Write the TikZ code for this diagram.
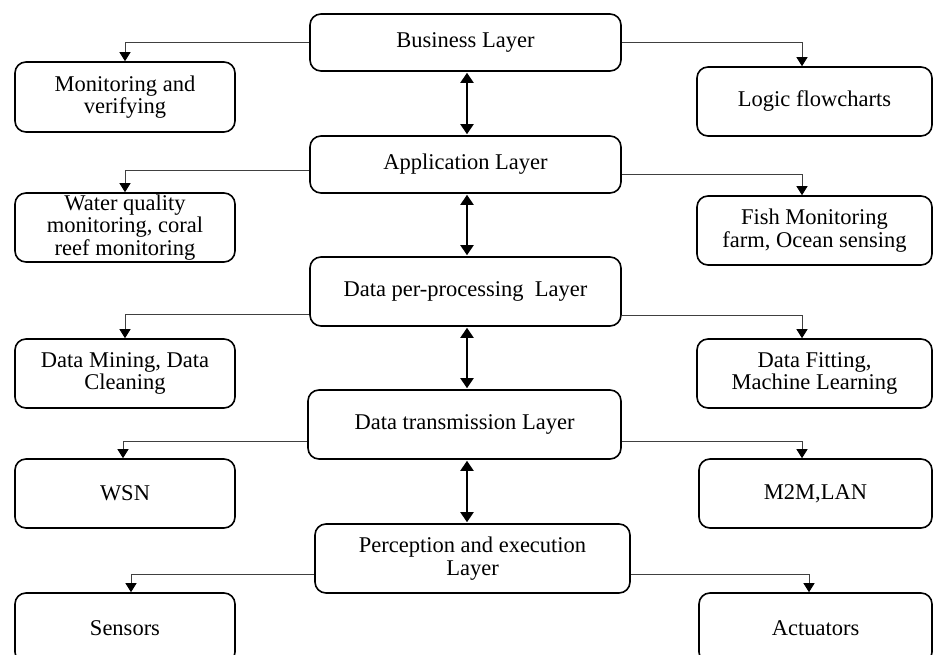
\documentclass[tikz,border=0pt]{standalone}
\usepackage{fontspec}
\setmainfont{Liberation Serif}
\usetikzlibrary{arrows.meta}
\begin{document}
\begin{tikzpicture}[x=1pt,y=-1pt,
  box/.style={draw=black, line width=1.6pt, rounded corners=11pt, align=center,
    inner sep=0pt, font=\fontsize{22.5}{22.5}\selectfont, fill=white},
  conn/.style={draw=black!75, line width=0.9pt, -{Triangle[length=9pt,width=11pt,color=black]}},
  dbl/.style={draw=black, line width=2pt, {Triangle[length=10pt,width=13pt]}-{Triangle[length=10pt,width=13pt]}, shorten <=1pt, shorten >=1pt}
]
\useasboundingbox (0,0) rectangle (934,655);
\clip (0,0) rectangle (934,655);
\fill[white] (0,0) rectangle (934,655);

% central layers
\node[box, minimum width=311pt, minimum height=57pt] (bl) at (465.5,42.5) {Business Layer};
\node[box, minimum width=311pt, minimum height=57pt] (al) at (465.5,164.5) {Application Layer};
\node[box, minimum width=311pt, minimum height=69pt] (dpp) at (465.5,291.5) {Data per-processing\ \ Layer};
\node[box, minimum width=313pt, minimum height=69pt] (dt) at (464.5,424.5) {Data transmission Layer};
\node[box, minimum width=315pt, minimum height=69pt] (pe) at (472.5,558.5) {Perception and execution\\Layer};

% left boxes
\node[box, minimum width=220pt, minimum height=70pt] (mon) at (125,97) {Monitoring and\\verifying};
\node[box, minimum width=220pt, minimum height=69pt] (wq) at (125,227.5) {Water quality\\monitoring, coral\\reef monitoring};
\node[box, minimum width=220pt, minimum height=69pt] (dm) at (125,373.5) {Data Mining, Data\\Cleaning};
\node[box, minimum width=220pt, minimum height=69pt] (wsn) at (125,493.5) {WSN};
\node[box, minimum width=220pt, minimum height=70pt] (sen) at (125,628) {Sensors};

% right boxes
\node[box, minimum width=235pt, minimum height=69pt] (lf) at (814.5,101.5) {Logic flowcharts};
\node[box, minimum width=235pt, minimum height=69pt] (fish) at (814.5,230.5) {Fish Monitoring\\farm, Ocean sensing};
\node[box, minimum width=235pt, minimum height=69pt] (df) at (814.5,373.5) {Data Fitting,\\Machine Learning};
\node[box, minimum width=233pt, minimum height=69pt] (m2m) at (815.5,493.5) {M2M,LAN};
\node[box, minimum width=233pt, minimum height=70pt] (act) at (815.5,628) {Actuators};

% connectors to side boxes
\draw[conn] (bl.west) -| (mon.north);
\draw[conn] (bl.east) -| (lf.north -| 802,0);
\draw[conn] (al.west |- 0,170) -| (wq.north);
\draw[conn] (al.east |- 0,174) -| (fish.north -| 802,0);
\draw[conn] (dpp.west |- 0,314) -| (dm.north);
\draw[conn] (dpp.east |- 0,315) -| (df.north -| 802,0);
\draw[conn] (dt.west |- 0,441) -| (wsn.north -| 123,0);
\draw[conn] (dt.east |- 0,441) -| (m2m.north -| 802,0);
\draw[conn] (pe.west |- 0,574) -| (sen.north -| 131,0);
\draw[conn] (pe.east |- 0,574) -| (act.north -| 809,0);

% double arrows between layers
\draw[dbl] (bl.south -| 467,0) -- (al.north -| 467,0);
\draw[dbl] (al.south -| 467,0) -- (dpp.north -| 467,0);
\draw[dbl] (dpp.south -| 467,0) -- (dt.north -| 467,0);
\draw[dbl] (dt.south -| 467,0) -- (pe.north -| 467,0);
\end{tikzpicture}
\end{document}
